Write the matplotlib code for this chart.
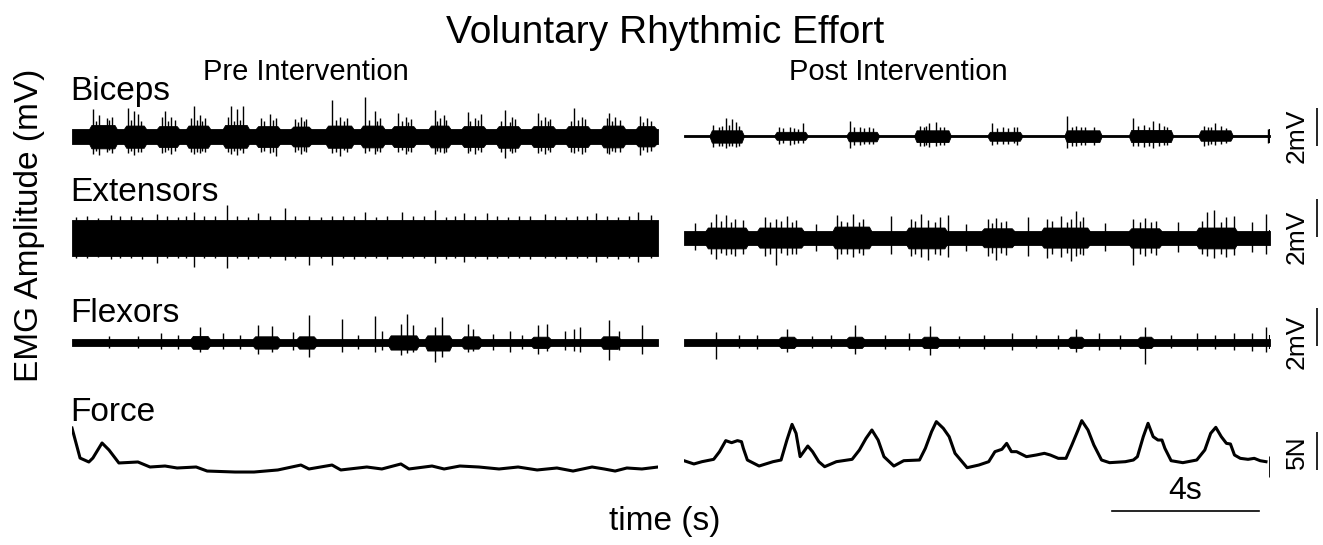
import matplotlib
matplotlib.use('Agg')
import matplotlib.pyplot as plt
import numpy as np

plt.rcParams['font.family'] = ['Liberation Sans', 'DejaVu Sans']

# ---------------- data ----------------
T_END = 16.0          # seconds shown per panel
SCALE_T = 4.0         # s  (time scale bar)
SCALE_MV = 2.0        # mV (EMG scale bar)
SCALE_N = 5.0         # N  (force scale bar)

# Biceps – pre
bic_pre_quiet = (0.38, 0.42)
bic_pre_start = [0.53, 1.48, 2.38, 3.18, 4.18, 5.08, 6.04, 6.99, 7.94, 8.79, 9.80, 10.70, 11.65, 12.60, 13.55, 14.51, 15.46]
bic_pre_end   = [1.16, 1.96, 2.86, 3.71, 4.77, 5.61, 6.46, 7.62, 8.47, 9.32, 10.27, 11.23, 12.18, 13.13, 14.08, 15.04, 15.89]
bic_pre_hi    = [0.58, 0.55, 0.52, 0.55, 0.58, 0.52, 0.50, 0.55, 0.55, 0.52, 0.55, 0.52, 0.52, 0.52, 0.52, 0.55, 0.52]
bic_pre_lo    = [0.65, 0.62, 0.58, 0.62, 0.62, 0.58, 0.55, 0.62, 0.60, 0.58, 0.60, 0.58, 0.62, 0.58, 0.58, 0.60, 0.55]
bic_pre_spk_t = [0.58, 0.74, 0.95, 1.10, 1.54, 1.69, 1.80, 2.45, 2.54, 2.70, 3.25, 3.34, 3.49, 3.62,
                 4.25, 4.34, 4.50, 4.66, 5.15, 5.40, 5.56, 6.10, 6.25, 6.40, 7.10, 7.31, 7.50,
                 8.00, 8.26, 8.40, 8.90, 9.11, 9.25, 9.90, 10.05, 10.17, 10.80, 11.00, 11.17,
                 11.81, 12.02, 12.10, 12.71, 12.92, 13.05, 13.71, 13.93, 14.00, 14.60, 14.67, 14.83,
                 15.51, 15.70,
                 0.66, 1.02, 1.60, 1.88, 2.62, 2.80, 3.41, 3.56, 4.42, 4.58, 5.25, 5.48, 6.17, 6.33,
                 7.20, 7.42, 8.10, 8.33, 9.00, 9.18, 9.97, 10.22, 10.88, 11.08, 11.72, 11.95,
                 12.80, 13.00, 13.62, 13.82, 14.75, 14.95, 15.60, 15.80]
bic_pre_spk_top = [1.40, 1.10, 0.95, 1.00, 1.45, 1.30, 1.15, 1.00, 1.30, 1.00, 0.95, 1.60, 1.10, 0.95,
                   1.00, 1.60, 1.40, 1.60, 0.95, 1.15, 0.95, 0.90, 1.00, 0.90, 1.90, 1.00, 0.95,
                   2.05, 1.30, 0.95, 1.20, 1.00, 0.90, 1.35, 0.95, 1.10, 1.25, 0.95, 1.15,
                   1.35, 1.00, 0.90, 1.20, 1.00, 0.90, 1.45, 1.00, 0.90, 0.95, 1.20, 1.00,
                   1.05, 0.95,
                   0.80, 0.85, 0.85, 0.80, 0.80, 0.85, 0.85, 0.80, 0.80, 0.85, 0.80, 0.85, 0.75, 0.80,
                   0.85, 0.80, 0.85, 0.80, 0.80, 0.75, 0.80, 0.85, 0.80, 0.85, 0.80, 0.75,
                   0.85, 0.80, 0.80, 0.85, 0.80, 0.85, 0.75, 0.80]
bic_pre_spk_bot = [-0.95, -1.00, -0.85, -0.90, -0.90, -1.00, -0.85, -0.90, -0.85, -0.95, -0.85, -0.95, -0.90, -0.85,
                   -0.85, -0.95, -1.00, -0.90, -0.85, -0.90, -1.05, -0.85, -0.95, -0.85, -0.90, -1.05, -0.85,
                   -0.90, -0.95, -0.85, -0.85, -0.95, -0.85, -0.95, -0.85, -0.90, -0.90, -0.95, -0.85,
                   -1.15, -0.90, -0.85, -0.90, -0.95, -0.85, -0.90, -0.95, -0.85, -0.90, -0.95, -0.85,
                   -1.00, -0.85,
                   -0.80, -0.75, -0.80, -0.85, -0.75, -0.80, -0.85, -0.80, -0.80, -0.75, -0.80, -0.85, -0.75, -0.80,
                   -0.85, -0.75, -0.80, -0.80, -0.75, -0.80, -0.80, -0.85, -0.80, -0.75, -0.85, -0.80,
                   -0.80, -0.75, -0.85, -0.80, -0.80, -0.85, -0.75, -0.80]

# Biceps – post
bic_post_quiet = (0.04, 0.04)
bic_post_start = [0.76, 2.53, 4.50, 6.35, 8.35, 10.45, 12.21, 14.11]
bic_post_end   = [1.57, 3.31, 5.26, 7.22, 9.17, 11.34, 13.29, 14.92]
bic_post_hi    = [0.30, 0.22, 0.22, 0.30, 0.22, 0.30, 0.32, 0.30]
bic_post_lo    = [0.35, 0.20, 0.28, 0.32, 0.25, 0.32, 0.32, 0.25]
bic_post_spk_t = [0.80, 1.14, 1.30, 1.41, 1.50, 2.60, 2.90, 3.24, 4.52, 4.80, 5.05,
                  6.45, 6.70, 6.88, 7.00, 8.40, 8.70, 9.10, 10.47, 10.70, 10.95,
                  12.26, 12.55, 12.80, 12.98, 13.10, 14.20, 14.50, 14.65, 15.95,
                  0.95, 1.05, 1.22, 2.70, 3.00, 3.12, 4.65, 4.92, 5.15, 6.55, 6.62, 7.10,
                  8.55, 8.85, 9.00, 10.60, 10.85, 11.20, 12.40, 12.70, 13.20, 14.30, 14.40, 14.80]
bic_post_spk_top = [0.60, 0.93, 0.88, 0.75, 0.55, 0.50, 0.45, 0.67, 0.79, 0.50, 0.45,
                    0.55, 0.70, 0.75, 0.50, 0.67, 0.45, 0.50, 1.05, 0.55, 0.50,
                    0.93, 0.60, 0.81, 0.70, 0.55, 0.55, 0.67, 0.55, 0.35,
                    0.50, 0.55, 0.60, 0.40, 0.42, 0.38, 0.45, 0.40, 0.42, 0.50, 0.55, 0.45,
                    0.42, 0.40, 0.45, 0.50, 0.48, 0.45, 0.55, 0.50, 0.45, 0.50, 0.48, 0.42]
bic_post_spk_bot = [-0.60, -0.65, -0.55, -0.60, -0.50, -0.40, -0.45, -0.35, -0.65, -0.45, -0.40,
                    -0.55, -0.60, -0.55, -0.45, -0.45, -0.40, -0.45, -0.65, -0.55, -0.45,
                    -0.55, -0.60, -0.65, -0.55, -0.45, -0.50, -0.45, -0.40, -0.35,
                    -0.55, -0.50, -0.55, -0.35, -0.40, -0.35, -0.45, -0.42, -0.40, -0.50, -0.48, -0.45,
                    -0.40, -0.42, -0.38, -0.50, -0.48, -0.45, -0.50, -0.55, -0.45, -0.45, -0.40, -0.38]

# Extensors – pre
ext_pre_quiet = (0.92, 0.98)
ext_pre_start, ext_pre_end, ext_pre_hi, ext_pre_lo = [], [], [], []
ext_pre_spk_t = [0.1, 0.4, 0.7, 1.06, 1.3, 1.6, 1.9, 2.33, 2.6, 2.9, 3.1, 3.34, 3.6, 3.9, 4.24,
                 4.5, 4.8, 5.08, 5.4, 5.82, 6.1, 6.46, 6.8, 7.1, 7.4, 7.7, 8.0, 8.3, 8.6, 9.0,
                 9.3, 9.6, 9.9, 10.2, 10.45, 10.7, 11.0, 11.33, 11.6, 11.9, 12.2, 12.5, 12.92,
                 13.2, 13.5, 13.8, 14.05, 14.3, 14.6, 14.9, 15.2, 15.46, 15.8]
ext_pre_spk_top = [1.05, 1.10, 1.02, 1.15, 1.08, 1.12, 1.05, 1.20, 1.10, 1.05, 1.12, 1.33, 1.08, 1.10, 1.68,
                   1.12, 1.05, 1.25, 1.10, 1.51, 1.08, 1.12, 1.05, 1.10, 1.08, 1.12, 1.33, 1.05, 1.10, 1.30,
                   1.08, 1.12, 1.42, 1.05, 1.10, 1.25, 1.08, 1.25, 1.10, 1.05, 1.12, 1.08, 1.20,
                   1.10, 1.05, 1.12, 1.08, 1.25, 1.10, 1.05, 1.12, 1.33, 1.15]
ext_pre_spk_bot = [-1.08, -1.12, -1.05, -1.15, -1.10, -1.08, -1.15, -1.39, -1.10, -1.12, -1.08, -1.56, -1.12, -1.10, -1.61,
                   -1.08, -1.15, -1.10, -1.12, -1.20, -1.08, -1.45, -1.12, -1.45, -1.10, -1.15, -1.12, -1.08, -1.15, -1.12,
                   -1.10, -1.08, -1.39, -1.15, -1.10, -1.33, -1.12, -1.15, -1.08, -1.12, -1.10, -1.15, -1.12,
                   -1.08, -1.15, -1.10, -1.12, -1.33, -1.08, -1.15, -1.12, -1.30, -1.10]

# Extensors – post
ext_post_quiet = (0.33, 0.40)
ext_post_start = [0.65, 2.06, 4.12, 6.13, 8.19, 9.82, 12.21, 14.05]
ext_post_end   = [1.68, 3.20, 5.05, 7.11, 8.95, 11.01, 12.97, 15.03]
ext_post_hi    = [0.50, 0.50, 0.55, 0.50, 0.46, 0.50, 0.46, 0.50]
ext_post_lo    = [0.60, 0.56, 0.60, 0.60, 0.54, 0.56, 0.56, 0.60]
ext_post_spk_t = [0.30, 0.87, 1.14, 1.40, 1.60, 2.22, 2.50, 2.80, 3.05, 3.60, 4.18, 4.61, 4.90,
                  5.64, 6.20, 6.46, 6.67, 7.00, 7.22, 7.70, 8.30, 8.52, 8.80,
                  9.39, 9.90, 10.30, 10.58, 10.69, 10.90, 11.50, 12.26, 12.60, 12.90,
                  13.50, 14.27, 14.48, 14.80, 15.03, 15.50, 15.90,
                  0.75, 1.00, 1.28, 2.35, 2.65, 2.95, 4.30, 4.45, 4.78, 6.30, 6.85, 8.40, 8.65,
                  10.05, 10.45, 10.80, 12.45, 12.75, 14.15, 14.65]
ext_post_spk_top = [0.75, 1.23, 1.14, 0.95, 0.90, 1.05, 0.96, 1.10, 0.90, 0.70, 1.14, 1.23, 0.95,
                    1.10, 0.95, 1.23, 0.90, 1.05, 1.14, 0.70, 0.95, 1.00, 0.85,
                    1.05, 0.95, 1.10, 0.95, 1.37, 1.05, 0.75, 0.96, 1.00, 0.85,
                    0.80, 1.32, 1.40, 1.05, 1.10, 0.80, 1.23,
                    0.80, 0.85, 0.78, 0.80, 0.85, 0.78, 0.85, 0.80, 0.78, 0.82, 0.80, 0.75, 0.78,
                    0.82, 0.80, 0.85, 0.78, 0.80, 0.85, 0.80]
ext_post_spk_bot = [-0.70, -1.14, -0.95, -1.00, -0.90, -1.00, -1.49, -0.95, -0.90, -0.75, -1.14, -1.05, -0.95,
                    -0.90, -1.00, -1.05, -1.20, -0.95, -1.05, -0.75, -1.00, -1.20, -0.95,
                    -1.00, -1.10, -1.05, -1.25, -1.00, -0.95, -0.75, -1.49, -1.00, -0.95,
                    -0.80, -1.00, -1.10, -1.05, -0.95, -0.80, -0.90,
                    -0.90, -0.85, -0.92, -0.88, -0.85, -0.90, -0.92, -0.88, -0.85, -0.90, -0.88, -0.82, -0.85,
                    -0.90, -0.85, -0.92, -0.88, -0.85, -0.90, -0.88]

# Flexors – pre
flx_pre_quiet = (0.17, 0.20)
flx_pre_start = [3.30, 5.00, 6.20, 8.70, 9.70, 10.70, 12.60, 14.50]
flx_pre_end   = [3.70, 5.60, 6.60, 9.40, 10.30, 11.10, 13.00, 14.90]
flx_pre_hi    = [0.32, 0.30, 0.30, 0.35, 0.35, 0.30, 0.28, 0.30]
flx_pre_lo    = [0.36, 0.35, 0.35, 0.40, 0.45, 0.35, 0.32, 0.36]
flx_pre_spk_t = [2.44, 3.49, 4.13, 5.08, 5.45, 6.04, 6.46, 7.36, 8.26, 8.47, 8.99, 9.15, 9.32,
                 9.90, 10.11, 10.80, 10.96, 11.97, 12.71, 12.97, 13.45, 13.71, 13.87, 14.67, 14.93,
                 15.57, 1.0, 1.8, 2.9, 4.6, 7.8, 11.5, 12.3]
flx_pre_spk_top = [0.45, 0.79, 0.45, 0.88, 0.82, 0.52, 1.40, 1.23, 1.35, 0.60, 0.96, 1.49, 0.88,
                   0.79, 1.32, 0.96, 0.70, 0.60, 0.88, 0.96, 0.60, 0.70, 0.79, 1.14, 0.60,
                   0.88, 0.30, 0.32, 0.35, 0.35, 0.35, 0.40, 0.35]
flx_pre_spk_bot = [-0.35, -0.53, -0.35, -0.61, -0.53, -0.44, -0.79, -0.53, -0.50, -0.40, -0.70, -0.60, -0.50,
                   -1.05, -0.79, -0.53, -0.45, -0.53, -0.61, -0.45, -0.40, -0.45, -0.53, -0.96, -0.40,
                   -0.61, -0.30, -0.32, -0.35, -0.35, -0.35, -0.40, -0.35]

# Flexors – post
flx_post_quiet = (0.17, 0.20)
flx_post_start = [2.65, 4.50, 6.55, 10.55, 12.45]
flx_post_end   = [3.00, 4.85, 6.90, 10.85, 12.75]
flx_post_hi    = [0.28, 0.28, 0.28, 0.28, 0.28]
flx_post_lo    = [0.32, 0.32, 0.32, 0.32, 0.32]
flx_post_spk_t = [0.87, 1.5, 2.0, 2.82, 3.5, 4.0, 4.67, 5.5, 6.13, 6.73, 7.5, 8.2, 8.95,
                  9.6, 10.2, 10.69, 11.34, 11.9, 12.59, 13.3, 14.0, 14.5, 15.03, 15.5, 15.9]
flx_post_spk_top = [0.52, 0.35, 0.35, 0.70, 0.30, 0.35, 0.88, 0.35, 0.45, 0.82, 0.30, 0.35, 0.45,
                    0.35, 0.35, 0.70, 0.45, 0.35, 0.79, 0.35, 0.45, 0.35, 0.47, 0.50, 0.79]
flx_post_spk_bot = [-0.88, -0.30, -0.35, -0.53, -0.30, -0.30, -0.61, -0.35, -0.40, -0.70, -0.30, -0.35, -0.40,
                    -0.30, -0.35, -0.53, -0.40, -0.35, -1.14, -0.30, -0.40, -0.35, -0.40, -0.45, -0.50]

# Force (N)
force_pre_t = [0.00, 0.22, 0.46, 0.57, 0.82, 1.01, 1.28, 1.80, 2.13, 2.54, 2.87, 3.39, 3.69, 4.45,
               4.97, 5.62, 6.25, 6.47, 7.10, 7.34, 8.05, 8.46, 8.98, 9.20, 9.83, 10.16, 10.59,
               11.11, 11.66, 12.18, 12.70, 13.24, 13.68, 14.20, 14.53, 14.83, 15.15, 15.56, 16.00]
force_pre_f = [6.84, 2.89, 2.37, 2.89, 4.87, 3.95, 2.24, 2.37, 1.71, 1.84, 1.58, 1.71, 1.18, 1.05,
               1.05, 1.32, 1.97, 1.45, 1.97, 1.32, 1.71, 1.45, 2.11, 1.45, 1.84, 1.45, 1.84,
               1.71, 1.45, 1.71, 1.32, 1.58, 1.18, 1.71, 1.45, 1.18, 1.58, 1.45, 1.71]
force_post_t = [0.00, 0.27, 0.49, 0.81, 0.97, 1.14, 1.30, 1.46, 1.57, 1.62, 1.73, 2.05, 2.43, 2.65,
                2.81, 2.95, 3.06, 3.17, 3.38, 3.51, 3.68, 3.84, 4.16, 4.59, 4.79, 4.97, 5.13,
                5.30, 5.46, 5.73, 6.00, 6.43, 6.59, 6.76, 6.89, 7.08, 7.24, 7.40, 7.73, 8.05,
                8.32, 8.49, 8.68, 8.81, 8.94, 9.08, 9.35, 9.62, 9.84, 10.00, 10.22, 10.43, 10.59,
                10.76, 10.86, 11.03, 11.19, 11.40, 11.62, 12.05, 12.27, 12.38, 12.54, 12.67, 12.81,
                12.94, 13.05, 13.13, 13.30, 13.62, 14.00, 14.22, 14.38, 14.52, 14.67, 14.81, 14.92,
                15.03, 15.19, 15.40, 15.57, 15.73, 15.89]
force_post_f = [2.54, 2.11, 2.41, 2.72, 3.73, 5.18, 4.91, 5.18, 5.04, 4.17, 2.63, 1.84, 2.41, 2.63,
                5.26, 7.32, 6.14, 3.07, 4.47, 3.73, 2.41, 1.75, 2.41, 2.72, 3.95, 5.48, 6.58,
                5.26, 3.07, 1.84, 2.54, 2.63, 4.17, 6.36, 7.68, 6.80, 5.70, 3.51, 1.62, 1.97,
                2.41, 3.73, 4.04, 4.82, 3.73, 3.73, 3.07, 3.29, 3.51, 3.29, 2.85, 2.85, 4.61,
                6.58, 7.81, 6.58, 4.61, 2.63, 2.28, 2.41, 2.63, 3.07, 5.70, 7.46, 5.70,
                5.26, 5.26, 4.17, 2.54, 2.28, 2.63, 3.95, 6.14, 6.93, 5.70, 4.82, 4.74,
                3.29, 2.85, 2.72, 2.85, 2.54, 2.41]

row_labels = ['Biceps', 'Extensors', 'Flexors', 'Force']

# ---------------- layout ----------------
W, H = 1323, 545
fig = plt.figure(figsize=(W / 100, H / 100), dpi=100)

PX_MV = 19.0   # pixels per mV
PX_N = 7.6     # pixels per N
PRE_X, POST_X, PANEL_W = 72, 684, 586
RAMP = 0.06    # s, softening of burst edges


def add_row(x0, y0_px, half_px, px_per_unit):
    ax = fig.add_axes([x0 / W, 1 - (y0_px + half_px) / H, PANEL_W / W, 2 * half_px / H])
    ax.set_xlim(0, T_END)
    ax.set_ylim(-half_px / px_per_unit, half_px / px_per_unit)
    ax.axis('off')
    return ax


def draw_emg(ax, quiet, starts, ends, his, los, st, stop, sbot):
    ax.fill_between([0, T_END], [quiet[0]] * 2, [-quiet[1]] * 2, color='black', lw=0.6)
    for s, e, h, l in zip(starts, ends, his, los):
        ax.fill_between([s - RAMP, s, e, e + RAMP],
                        [quiet[0], h, h, quiet[0]],
                        [-quiet[1], -l, -l, -quiet[1]], color='black', lw=0.6)
    ax.vlines(st, sbot, stop, color='black', lw=1.0)


rows = [
    (136, (bic_pre_quiet, bic_pre_start, bic_pre_end, bic_pre_hi, bic_pre_lo, bic_pre_spk_t, bic_pre_spk_top, bic_pre_spk_bot),
          (bic_post_quiet, bic_post_start, bic_post_end, bic_post_hi, bic_post_lo, bic_post_spk_t, bic_post_spk_top, bic_post_spk_bot),
     (-0.5, 1.5)),
    (237, (ext_pre_quiet, ext_pre_start, ext_pre_end, ext_pre_hi, ext_pre_lo, ext_pre_spk_t, ext_pre_spk_top, ext_pre_spk_bot),
          (ext_post_quiet, ext_post_start, ext_post_end, ext_post_hi, ext_post_lo, ext_post_spk_t, ext_post_spk_top, ext_post_spk_bot),
     (0.0, 2.0)),
    (342, (flx_pre_quiet, flx_pre_start, flx_pre_end, flx_pre_hi, flx_pre_lo, flx_pre_spk_t, flx_pre_spk_top, flx_pre_spk_bot),
          (flx_post_quiet, flx_post_start, flx_post_end, flx_post_hi, flx_post_lo, flx_post_spk_t, flx_post_spk_top, flx_post_spk_bot),
     (-0.2, 1.8)),
]

BAR_T = T_END + (1317 - 684 - PANEL_W) / PANEL_W * T_END   # x of vertical scale bars
TXT_T = T_END + (1297 - 684 - PANEL_W) / PANEL_W * T_END

for yc, pre, post, bar in rows:
    axp = add_row(PRE_X, yc, 60, PX_MV)
    draw_emg(axp, *pre)
    axq = add_row(POST_X, yc, 60, PX_MV)
    draw_emg(axq, *post)
    axq.vlines([T_END], [-0.35], [0.35], color='black', lw=1.5)
    axq.vlines([BAR_T], [bar[0]], [bar[0] + SCALE_MV], color='black', lw=1.2, clip_on=False)
    axq.text(TXT_T, 0, '2mV', rotation=90, ha='center', va='center', fontsize=19, clip_on=False)

# force row (0 N at pixel 480)
axf1 = add_row(PRE_X, 480, 70, PX_N)
axf1.plot(force_pre_t, force_pre_f, color='black', lw=2.2, solid_joinstyle='round')
axf2 = add_row(POST_X, 480, 70, PX_N)
axf2.plot(force_post_t, force_post_f, color='black', lw=2.2, solid_joinstyle='round')
axf2.vlines([T_END], [0.4], [3.2], color='black', lw=2.0)
axf2.vlines([BAR_T], [1.3], [1.3 + SCALE_N], color='black', lw=1.2, clip_on=False)
axf2.text(TXT_T, 3.7, '5N', rotation=90, ha='center', va='center', fontsize=19, clip_on=False)
bar_x0 = (1112 - 684) / PANEL_W * T_END
axf2.plot([bar_x0, bar_x0 + SCALE_T], [-4.1, -4.1], color='black', lw=1.2, clip_on=False)
axf2.text(bar_x0 + SCALE_T / 2, -2.5, '4s', ha='center', va='baseline', fontsize=23)

# texts
def ftext(x, y, s, **kw):
    fig.text(x / W, 1 - y / H, s, **kw)

ftext(665, 43, 'Voluntary Rhythmic Effort', ha='center', va='baseline', fontsize=28)
ftext(306, 80, 'Pre Intervention', ha='center', va='baseline', fontsize=21)
ftext(898, 80, 'Post Intervention', ha='center', va='baseline', fontsize=21)
for lab, yb in zip(row_labels, [100, 201, 322, 421]):
    ftext(70, yb, lab, ha='left', va='baseline', fontsize=24)
ftext(30, 225, 'EMG Amplitude (mV)', rotation=90, ha='center', va='center', fontsize=24)
ftext(665, 530, 'time (s)', ha='center', va='baseline', fontsize=24)

fig.savefig('out.png', dpi=100)
